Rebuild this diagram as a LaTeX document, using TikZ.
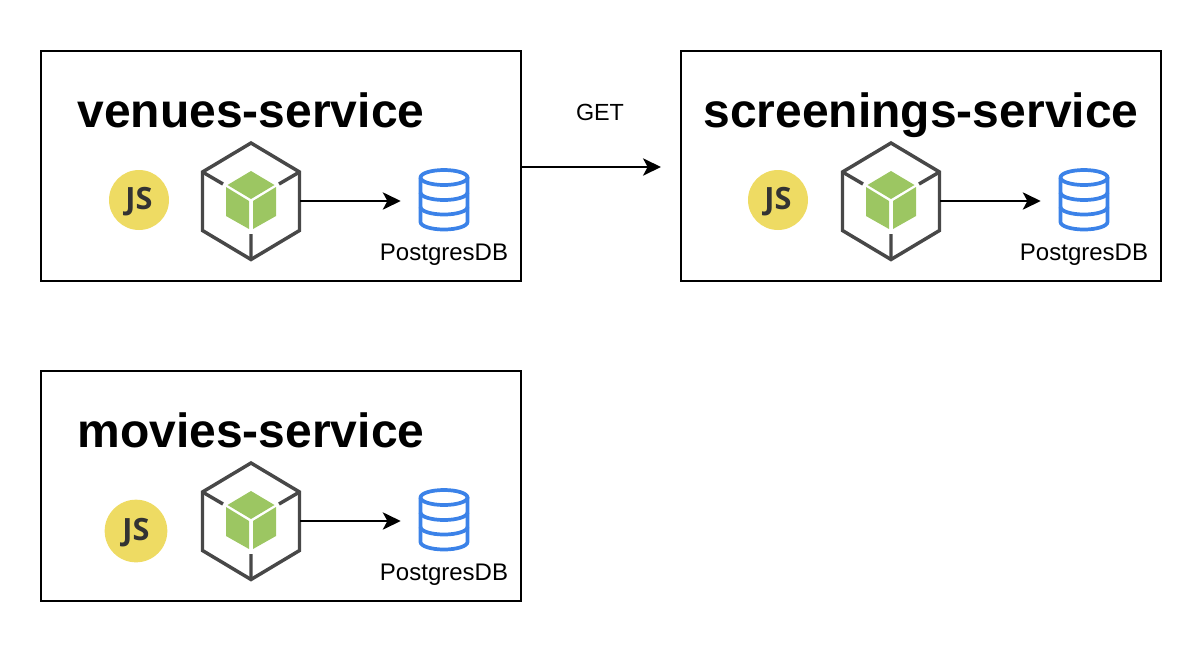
\documentclass[tikz,border=0pt]{standalone}
\usepackage{fontspec}
\setmainfont{Liberation Sans}
\newfontfamily\jsfont{Open Sans}
\usetikzlibrary{arrows.meta}
\definecolor{boxblack}{HTML}{000000}
\definecolor{jsyellow}{HTML}{EEDB63}
\definecolor{jsdark}{HTML}{333333}
\definecolor{hexgray}{HTML}{484848}
\definecolor{cubegreen}{HTML}{9CC662}
\definecolor{dbblue}{HTML}{3B82E8}
\tikzset{
  x=0.75pt,y=-0.75pt,
  service/.style={draw=boxblack,line width=1.5pt,minimum width=360pt,minimum height=172.5pt,inner sep=0pt},
  titletext/.style={font=\bfseries\fontsize{36pt}{38pt}\selectfont,inner sep=0pt,anchor=base},
  labeltext/.style={font=\fontsize{18pt}{20pt}\selectfont,inner sep=0pt,anchor=base},
  flow/.style={draw=black,line width=1.5pt,-{Stealth[length=13.5pt,width=13pt,inset=3.5pt]}},
  hexbox/.style={minimum width=73.5pt,minimum height=88.5pt,inner sep=0pt},
  dbbox/.style={minimum width=37.5pt,minimum height=45pt,inner sep=0pt},
  jsbadge/.style={circle,fill=jsyellow,inner sep=0pt,text=jsdark,font=\jsfont\bfseries\fontsize{23pt}{24pt}\selectfont},
  jstext/.style={inner sep=0pt,text=jsdark,font=\jsfont\bfseries\fontsize{23pt}{24pt}\selectfont},
  hexicon/.pic={
    \draw[hexgray,line width=2.6pt,line join=miter]
      (0,-58)--(48.5,-29)--(48.5,29.5)--(0,58.5)--(-48.5,29.5)--(-48.5,-29)--cycle;
    \draw[hexgray,line width=2.6pt]
      (-48.5,-29)--(-28,-17) (48.5,-29)--(28,-17) (0,33)--(0,58);
    \fill[cubegreen] (0,-30)--(23.5,-16)--(0,-2)--(-23.5,-16)--cycle;
    \fill[cubegreen] (-25,-14)--(-2,0)--(-2,28)--(-25,15)--cycle;
    \fill[cubegreen] (25,-14)--(2,0)--(2,28)--(25,15)--cycle;
  },
  dbicon/.pic={
    \draw[dbblue,line width=2.8pt]
      (-23.5,-22.5) arc[start angle=180,end angle=-180,x radius=23.5,y radius=-7.5];
    \draw[dbblue,line width=2.8pt,line cap=round]
      (-23.5,-22.5)--(-23.5,22)
      arc[start angle=180,end angle=360,x radius=23.5,y radius=-7.5]
      --(23.5,-22.5);
    \draw[dbblue,line width=2.8pt]
      (-23.5,-7.5) arc[start angle=180,end angle=360,x radius=23.5,y radius=-7.5];
    \draw[dbblue,line width=2.8pt]
      (-23.5,7) arc[start angle=180,end angle=360,x radius=23.5,y radius=-7.5];
  }
}
\begin{document}
\begin{tikzpicture}
\useasboundingbox (0,0) rectangle (1204,654);
% venues
\node[service] (vbox) at (281,166) {};
\node[titletext] (vtitle) at (251,127) {venues-service};
\node[jsbadge,minimum size=45pt] (vjs) at (139,200) {};
\node[jstext] (vjst) at (139,202) {JS};
\node[hexbox] (vhex) at (251,201) {};
\pic at (vhex.center) {hexicon};
\node[dbbox] (vdb) at (444,200) {};
\pic at (vdb.center) {dbicon};
\node[labeltext] (vlabel) at (444,260) {PostgresDB};
\draw[flow,shorten >=13.5pt] (vhex.east) -- (vhex.east -| vdb.west);
% screenings
\node[service] (sbox) at (921,166) {};
\node[titletext] (stitle) at (921,127) {screenings-service};
\node[jsbadge,minimum size=45pt] (sjs) at (778,200) {};
\node[jstext] (sjst) at (778,202) {JS};
\node[hexbox] (shex) at (891,201) {};
\pic at (shex.center) {hexicon};
\node[dbbox] (sdb) at (1084,200) {};
\pic at (sdb.center) {dbicon};
\node[labeltext] (slabel) at (1084,260) {PostgresDB};
\draw[flow,shorten >=13.5pt] (shex.east) -- (shex.east -| sdb.west);
% movies
\node[service] (mbox) at (281,486) {};
\node[titletext] (mtitle) at (251,447) {movies-service};
\node[jsbadge,minimum size=47pt] (mjs) at (136,531) {};
\node[jstext] (mjst) at (136,533) {JS};
\node[hexbox] (mhex) at (251,521) {};
\pic at (mhex.center) {hexicon};
\node[dbbox] (mdb) at (444,520) {};
\pic at (mdb.center) {dbicon};
\node[labeltext] (mlabel) at (444,580) {PostgresDB};
\draw[flow,shorten >=13.5pt] (mhex.east) -- (mhex.east -| mdb.west);
% request between services
\node[labeltext,font=\fontsize{17.5pt}{20pt}\selectfont] (get) at (600,120) {GET};
\coordinate (gettip) at (661,167);
\draw[flow] (vbox.east |- gettip) -- (gettip);
\end{tikzpicture}
\end{document}
